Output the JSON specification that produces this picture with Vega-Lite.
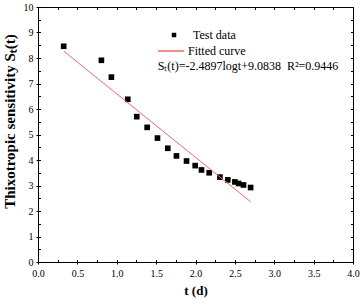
{
  "$schema": "https://vega.github.io/schema/vega-lite/v6.json",
  "autosize": "none",
  "padding": {"left": 38, "top": 7, "right": 9, "bottom": 42},
  "width": 315,
  "height": 255,
  "background": "white",
  "config": {
    "view": {"stroke": "black", "strokeWidth": 1},
    "font": "Liberation Serif",
    "axis": {
      "grid": false,
      "domain": false,
      "tickColor": "black",
      "labelColor": "black",
      "titleColor": "black",
      "labelFont": "Liberation Serif",
      "titleFont": "Liberation Serif",
      "labelFontSize": 10,
      "titleFontWeight": "bold"
    },
    "legend": {
      "labelFont": "Liberation Serif",
      "labelFontSize": 12,
      "labelColor": "black",
      "padding": 0
    }
  },
  "datasets": {
    "points": [
      {"t": 0.326, "st": 8.46, "series": "Test data"},
      {"t": 0.805, "st": 7.91, "series": "Test data"},
      {"t": 0.932, "st": 7.25, "series": "Test data"},
      {"t": 1.140, "st": 6.38, "series": "Test data"},
      {"t": 1.254, "st": 5.70, "series": "Test data"},
      {"t": 1.386, "st": 5.28, "series": "Test data"},
      {"t": 1.517, "st": 4.86, "series": "Test data"},
      {"t": 1.648, "st": 4.46, "series": "Test data"},
      {"t": 1.758, "st": 4.16, "series": "Test data"},
      {"t": 1.886, "st": 3.96, "series": "Test data"},
      {"t": 1.996, "st": 3.78, "series": "Test data"},
      {"t": 2.076, "st": 3.61, "series": "Test data"},
      {"t": 2.174, "st": 3.50, "series": "Test data"},
      {"t": 2.310, "st": 3.33, "series": "Test data"},
      {"t": 2.410, "st": 3.22, "series": "Test data"},
      {"t": 2.500, "st": 3.14, "series": "Test data"},
      {"t": 2.547, "st": 3.08, "series": "Test data"},
      {"t": 2.610, "st": 3.02, "series": "Test data"},
      {"t": 2.700, "st": 2.92, "series": "Test data"}
    ],
    "fit": [
      {"t": 0.33, "st": 8.262, "series": "Fitted curve"},
      {"t": 2.70, "st": 2.362, "series": "Fitted curve"}
    ]
  },
  "resolve": {"axis": {"x": "independent", "y": "independent"}},
  "layer": [
    {
      "data": {"name": "points"},
      "mark": {"type": "point", "shape": "square", "filled": true, "color": "black", "opacity": 1, "size": 32},
      "encoding": {
        "x": {
          "field": "t", "type": "quantitative",
          "scale": {"domain": [0, 4], "nice": false},
          "axis": {
            "orient": "bottom", "title": "t (d)", "titleFontSize": 13,
            "titleFont": "Liberation Serif", "labelFont": "Liberation Serif", "labelFontSize": 10,
            "values": [0, 0.5, 1, 1.5, 2, 2.5, 3, 3.5, 4],
            "format": ".1f", "tickSize": 2, "labelPadding": 4, "titlePadding": 6,
            "labelFlush": false
          }
        },
        "y": {
          "field": "st", "type": "quantitative",
          "scale": {"domain": [0, 10], "nice": false},
          "axis": {
            "orient": "left", "title": "Thixotropic sensitivity Sₜ(t)", "titleFontSize": 15,
            "titleFont": "Liberation Serif", "labelFont": "Liberation Serif", "labelFontSize": 10,
            "values": [0, 1, 2, 3, 4, 5, 6, 7, 8, 9, 10],
            "format": "d", "tickSize": 2, "labelPadding": 3, "titlePadding": 6,
            "titleY": 114, "labelFlush": false
          }
        },
        "shape": {
          "field": "series", "type": "nominal",
          "scale": {"domain": ["Test data"], "range": ["square"]},
          "legend": {
            "title": null, "orient": "none", "legendX": 130, "legendY": 22,
            "symbolSize": 20, "labelOffset": 13, "symbolFillColor": "black", "symbolStrokeWidth": 0
          }
        }
      }
    },
    {
      "data": {"name": "fit"},
      "mark": {"type": "line", "strokeWidth": 1},
      "encoding": {
        "x": {
          "field": "t", "type": "quantitative",
          "axis": {
            "orient": "top", "title": null, "labels": false,
            "values": [0, 0.25, 0.5, 0.75, 1, 1.25, 1.5, 1.75, 2, 2.25, 2.5, 2.75, 3, 3.25, 3.5, 3.75, 4],
            "tickSize": -2.5
          }
        },
        "y": {
          "field": "st", "type": "quantitative",
          "axis": {
            "orient": "right", "title": null, "labels": false,
            "values": [0, 0.5, 1, 1.5, 2, 2.5, 3, 3.5, 4, 4.5, 5, 5.5, 6, 6.5, 7, 7.5, 8, 8.5, 9, 9.5, 10],
            "tickSize": -2.5
          }
        },
        "stroke": {
          "field": "series", "type": "nominal",
          "scale": {"domain": ["Fitted curve"], "range": ["#f06a6a"]},
          "legend": {
            "title": null, "orient": "none", "legendX": 119, "legendY": 30,
            "symbolType": "stroke", "symbolSize": 676, "symbolStrokeWidth": 1.5, "labelOffset": 3
          }
        }
      }
    },
    {
      "data": {"values": [{}]},
      "mark": {"type": "text", "align": "left", "baseline": "middle", "fontSize": 12, "font": "Liberation Serif", "color": "black"},
      "encoding": {
        "x": {
          "datum": 1.52, "type": "quantitative",
          "axis": {
            "orient": "bottom", "title": null, "labels": false,
            "values": [0, 0.25, 0.5, 0.75, 1, 1.25, 1.5, 1.75, 2, 2.25, 2.5, 2.75, 3, 3.25, 3.5, 3.75, 4],
            "tickSize": -2.5
          }
        },
        "y": {
          "datum": 7.69, "type": "quantitative",
          "axis": {
            "orient": "left", "title": null, "labels": false,
            "values": [0, 0.5, 1, 1.5, 2, 2.5, 3, 3.5, 4, 4.5, 5, 5.5, 6, 6.5, 7, 7.5, 8, 8.5, 9, 9.5, 10],
            "tickSize": -2.5
          }
        },
        "text": {"value": "Sₜ(t)=-2.4897logt+9.0838 \u00a0R²=0.9446"}
      }
    }
  ]
}
